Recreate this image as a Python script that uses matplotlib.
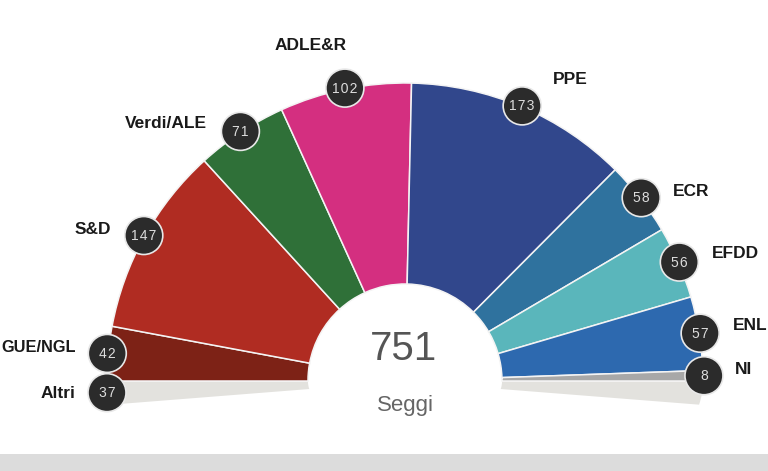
#!/usr/bin/env python3
import numpy as np
import matplotlib
matplotlib.use("Agg")
import matplotlib.pyplot as plt
from matplotlib.patches import Wedge, Circle, Rectangle
from matplotlib.transforms import Affine2D

plt.rcParams["font.family"] = ["Liberation Sans", "DejaVu Sans"]

# gruppi sopra l'orizzontale, da sinistra a destra
groups = ["GUE/NGL", "S&D", "Verdi/ALE", "ADLE&R", "PPE", "ECR", "EFDD", "ENL", "NI"]
seats = [42, 147, 71, 102, 173, 58, 56, 57, 8]
colors = ["#7d2216", "#b02c22", "#2f7038", "#d42f80", "#31478c",
          "#2f729e", "#5ab6bb", "#2d69af", "#a8a8a8"]
other_label = "Altri"
other_seats = 37
other_color = "#e3e2de"
total_seats = 751
total_label = "Seggi"

# posizione delle etichette in pixel (x, y, allineamento)
label_pos = {
    "GUE/NGL": (76, 348, "right"), "S&D": (93, 229, "center"),
    "Verdi/ALE": (166, 124, "center"), "ADLE&R": (311, 46, "center"),
    "PPE": (570, 79, "center"), "ECR": (691, 191, "center"),
    "EFDD": (735, 254, "center"), "ENL": (750, 326, "center"),
    "NI": (743, 369, "center"), "Altri": (75, 394, "right"),
}

W, H = 768, 471
CX, CY = 405, H - 381
R_OUT, R_IN = 298, 97
R_BUBBLE = 299
SQUASH = 0.48  # la fascia "Altri" sta schiacciata sotto l'orizzontale


def bubble(ax, x, y, value):
    ax.add_patch(Circle((x, y), 19, facecolor="#2b2b2b", edgecolor="#e8e8e8", lw=1.2, zorder=5))
    # cifre un po' spaziate come nell'originale
    ax.text(x, y - 0.5, "\u200a".join(str(value)), color="#dddddd", fontsize=10,
            ha="center", va="center", zorder=6)


def main():
    fig = plt.figure(figsize=(W / 100, H / 100), dpi=100)
    ax = fig.add_axes([0, 0, 1, 1])
    ax.set_xlim(0, W)
    ax.set_ylim(0, H)
    ax.axis("off")

    deg_per_seat = 180.0 / sum(seats)

    # fascia grigia in fondo
    ax.add_patch(Rectangle((0, 0), W, H - 454, facecolor="#dcdcdc", edgecolor="none"))

    # spicchi grigi sotto l'orizzontale
    squash = Affine2D().translate(-CX, -CY).scale(1, SQUASH).translate(CX, CY) + ax.transData
    span = other_seats * deg_per_seat
    for t1, t2 in [(180, 180 + span), (360 - span, 360)]:
        ax.add_patch(Wedge((CX, CY - 1), R_OUT, t1, t2, width=R_OUT - R_IN,
                           facecolor=other_color, edgecolor="none", transform=squash))

    # semicerchio dei gruppi
    start = 180.0
    for name, n, col in zip(groups, seats, colors):
        end = start - n * deg_per_seat
        ax.add_patch(Wedge((CX, CY), R_OUT, end, start, width=R_OUT - R_IN,
                           facecolor=col, edgecolor="#f4f4f4", lw=1.1, zorder=2))
        mid = np.radians((start + end) / 2)
        bubble(ax, CX + R_BUBBLE * np.cos(mid), CY + R_BUBBLE * np.sin(mid), n)
        start = end

    # bolla di "Altri"
    mid = np.radians(180 + span / 2)
    bubble(ax, CX + R_BUBBLE * np.cos(mid), CY + R_BUBBLE * SQUASH * np.sin(mid), other_seats)

    for name, (x, y, ha) in label_pos.items():
        # GUE/NGL appena piu' piccola, altrimenti esce dal bordo sinistro
        size = 11.8 if name == "GUE/NGL" else 12.5
        ax.text(x, H - y, name, fontsize=size, fontweight="bold", color="#1a1a1a",
                ha=ha, va="center", zorder=6)

    ax.text(404, H - 349, str(total_seats), fontsize=29, color="#555555", ha="center", va="center", zorder=6)
    ax.text(405, H - 405, total_label, fontsize=16, color="#666666", ha="center", va="center", zorder=6)

    fig.savefig("out.png", dpi=100)
    plt.close(fig)


if __name__ == "__main__":
    main()
